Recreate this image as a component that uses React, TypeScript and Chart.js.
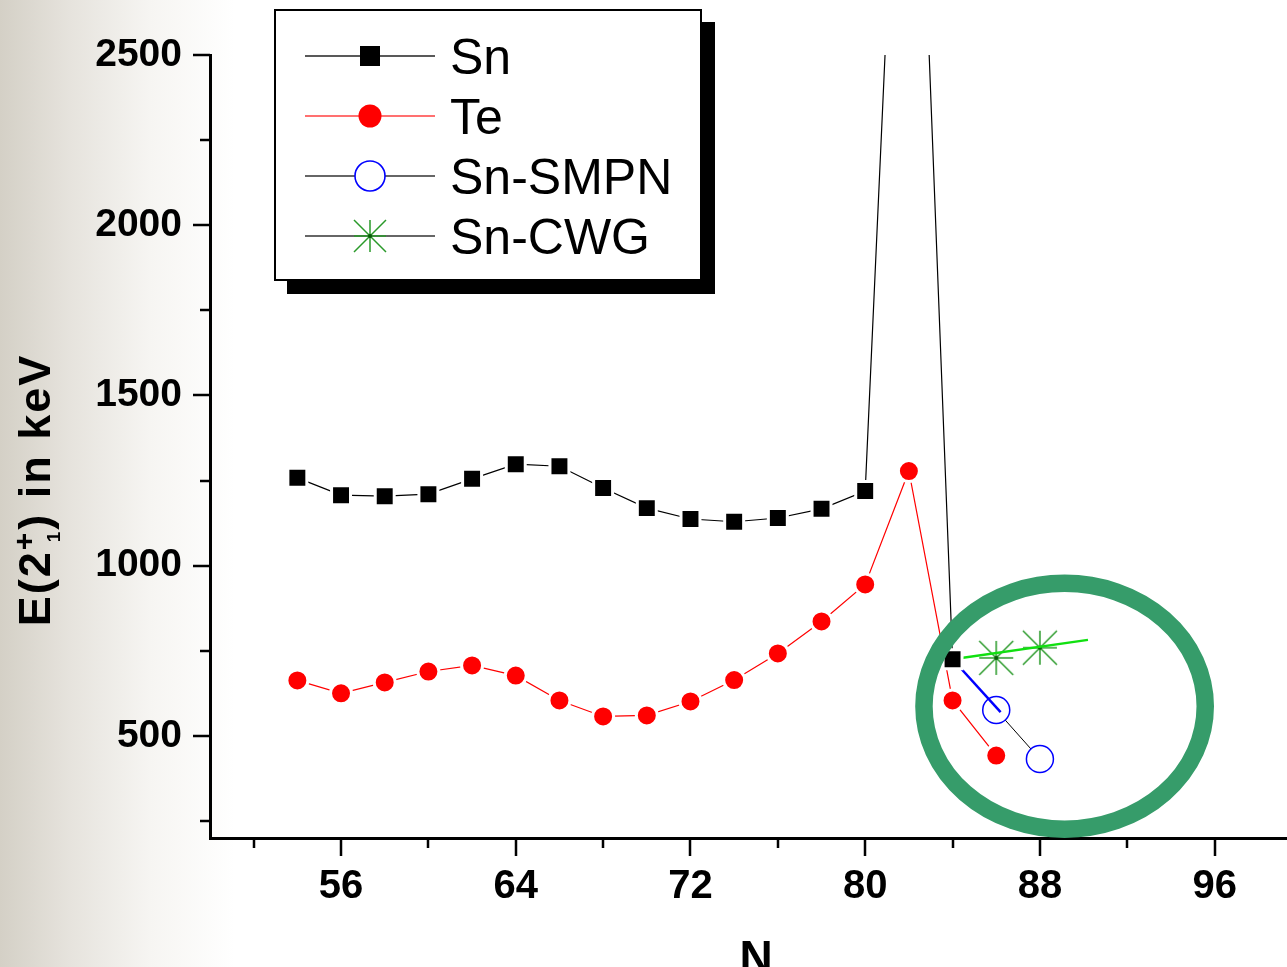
import React, { useEffect, useRef } from 'react';
import { Chart, registerables } from 'chart.js';

Chart.register(...registerables);

// ---------- data ----------
const snN = [54, 56, 58, 60, 62, 64, 66, 68, 70, 72, 74, 76, 78, 80, 82, 84];
const snE = [1258, 1207, 1204, 1210, 1255, 1298, 1292, 1228, 1169, 1137, 1129, 1140, 1167, 1219, 4041, 725];
const teN = [54, 56, 58, 60, 62, 64, 66, 68, 70, 72, 74, 76, 78, 80, 82, 84, 86];
const teE = [663, 625, 657, 689, 707, 677, 604, 557, 560, 601, 664, 742, 836, 945, 1278, 604, 442];
const smpnN = [86, 88];
const smpnE = [576, 432];
const cwgN = [86, 88];
const cwgE = [729, 759];
const smpnLinkN = [84, 86.2];
const smpnLinkE = [725, 570];
const cwgFitN = [84, 90.2];
const cwgFitE = [725, 782];

const xTickValues = [52, 56, 60, 64, 68, 72, 76, 80, 84, 88, 92, 96, 100];
const xTickLabels = [56, 64, 72, 80, 88, 96];
const yTickValues = [250, 500, 750, 1000, 1250, 1500, 1750, 2000, 2250, 2500];
const yTickLabels = [500, 1000, 1500, 2000, 2500];
const seriesNames = ['Sn', 'Te', 'Sn-SMPN', 'Sn-CWG'];
const xTitle = 'N';
const yTitleMain = 'E(2';
const yTitleSup = '+';
const yTitleSub = '1';
const yTitleRest = ') in keV';

// highlight ellipse (data units): centre and radii
const highlightCenter = [89.13, 587];
const highlightRadii = [6.44, 361];

const FONT = "'Liberation Sans', Arial, Helvetica, sans-serif";

const pts = (xs: number[], ys: number[]) => xs.map((x, i) => ({ x, y: ys[i] }));

function drawStar(ctx: CanvasRenderingContext2D, cx: number, cy: number, r: number, color: string, w: number) {
  ctx.save();
  ctx.strokeStyle = color;
  ctx.lineWidth = w;
  ctx.beginPath();
  ctx.moveTo(cx - r, cy); ctx.lineTo(cx + r, cy);
  ctx.moveTo(cx, cy - r); ctx.lineTo(cx, cy + r);
  ctx.moveTo(cx - r, cy - r); ctx.lineTo(cx + r, cy + r);
  ctx.moveTo(cx - r, cy + r); ctx.lineTo(cx + r, cy - r);
  ctx.stroke();
  ctx.fillStyle = '#0a5a0a';
  ctx.beginPath(); ctx.arc(cx, cy, 2, 0, Math.PI * 2); ctx.fill();
  ctx.restore();
}

const decorPlugin = {
  id: 'decor',
  afterDatasetsDraw(chart: any) {
    const { ctx, scales } = chart;
    const x = scales.x, y = scales.y;
    const cx = x.getPixelForValue(highlightCenter[0]);
    const cy = y.getPixelForValue(highlightCenter[1]);
    const rx = Math.abs(x.getPixelForValue(highlightCenter[0] + highlightRadii[0]) - cx);
    const ry = Math.abs(y.getPixelForValue(highlightCenter[1] + highlightRadii[1]) - cy);
    ctx.save();
    ctx.beginPath();
    ctx.ellipse(cx, cy, rx, ry, 0, 0, Math.PI * 2);
    ctx.strokeStyle = '#369c6a';
    ctx.lineWidth = 17.5;
    ctx.stroke();
    ctx.restore();
  },
  afterDraw(chart: any) {
    const { ctx, scales, chartArea } = chart;
    const x = scales.x, y = scales.y;
    ctx.save();
    // tick marks
    ctx.strokeStyle = '#000';
    ctx.lineWidth = 2.5;
    ctx.beginPath();
    xTickValues.forEach((v) => {
      const px = Math.round(x.getPixelForValue(v));
      const len = xTickLabels.includes(v) ? 18 : 10;
      ctx.moveTo(px, chartArea.bottom);
      ctx.lineTo(px, chartArea.bottom + len);
    });
    yTickValues.forEach((v) => {
      const py = Math.round(y.getPixelForValue(v));
      const len = yTickLabels.includes(v) ? 17 : 10;
      ctx.moveTo(chartArea.left, py);
      ctx.lineTo(chartArea.left - len, py);
    });
    ctx.stroke();

    // x title
    ctx.fillStyle = '#000';
    ctx.font = `bold 46px ${FONT}`;
    ctx.textAlign = 'center';
    ctx.textBaseline = 'alphabetic';
    ctx.fillText(xTitle, (chartArea.left + chartArea.right) / 2, 973);

    // y title (rotated, with super/subscript)
    ctx.save();
    ctx.translate(50, 490);
    ctx.rotate(-Math.PI / 2);
    ctx.textAlign = 'left';
    try { (ctx as any).letterSpacing = '2px'; } catch (e) { /* ignore */ }
    const big = `bold 45px ${FONT}`;
    const sup = `bold 30px ${FONT}`;
    const sub = `bold 19px ${FONT}`;
    ctx.font = big;
    const w1 = ctx.measureText(yTitleMain).width;
    const w3 = ctx.measureText(yTitleRest).width;
    ctx.font = sup;
    const wSup = ctx.measureText(yTitleSup).width;
    ctx.font = sub;
    const wSub = ctx.measureText(yTitleSub).width;
    const wMid = Math.max(wSup, wSub + 8);
    let px = -(w1 + wMid + w3) / 2;
    ctx.font = big;
    ctx.fillText(yTitleMain, px, 0);
    px += w1;
    ctx.font = sup;
    ctx.fillText(yTitleSup, px, -16);
    ctx.font = sub;
    ctx.fillText(yTitleSub, px + 8, 10);
    px += wMid;
    ctx.font = big;
    ctx.fillText(yTitleRest, px, 0);
    try { (ctx as any).letterSpacing = '0px'; } catch (e) { /* ignore */ }
    ctx.restore();

    // legend
    const L = { x: 274, y: 9, w: 428, h: 272, shadow: 13 };
    ctx.fillStyle = '#000';
    ctx.fillRect(L.x + L.shadow, L.y + L.shadow, L.w, L.h);
    ctx.fillStyle = '#fff';
    ctx.fillRect(L.x, L.y, L.w, L.h);
    ctx.strokeStyle = '#000';
    ctx.lineWidth = 2;
    ctx.strokeRect(L.x + 1, L.y + 1, L.w - 2, L.h - 2);

    seriesNames.forEach((name, i) => {
      const ds = chart.data.datasets.find((d: any) => d.label === name);
      if (!ds) return;
      const ry = 56 + i * 60;
      ctx.strokeStyle = ds.legendLine;
      ctx.lineWidth = 1.5;
      ctx.beginPath();
      ctx.moveTo(305, ry);
      ctx.lineTo(435, ry);
      ctx.stroke();
      const mx = 370;
      if (ds.legendMarker === 'square') {
        ctx.fillStyle = '#000';
        ctx.fillRect(mx - 10, ry - 10, 20, 20);
      } else if (ds.legendMarker === 'dot') {
        ctx.fillStyle = '#ff0000';
        ctx.beginPath(); ctx.arc(mx, ry, 11.5, 0, Math.PI * 2); ctx.fill();
      } else if (ds.legendMarker === 'ring') {
        ctx.fillStyle = '#fff';
        ctx.strokeStyle = '#0000ff';
        ctx.lineWidth = 1.6;
        ctx.beginPath(); ctx.arc(mx, ry, 15, 0, Math.PI * 2); ctx.fill(); ctx.stroke();
      } else if (ds.legendMarker === 'star') {
        drawStar(ctx, mx, ry, 16, '#2a9a2a', 1.5);
      }
      ctx.fillStyle = '#000';
      ctx.font = `50px ${FONT}`;
      ctx.textAlign = 'left';
      ctx.textBaseline = 'alphabetic';
      ctx.fillText(name, 450, ry + 18);
    });
    ctx.restore();
  },
};

export default function App() {
  const ref = useRef<HTMLCanvasElement | null>(null);

  useEffect(() => {
    const canvas = ref.current;
    if (!canvas) return;

    const starCanvas = document.createElement('canvas');
    starCanvas.width = 38;
    starCanvas.height = 38;
    const sctx = starCanvas.getContext('2d');
    if (sctx) drawStar(sctx, 19, 19, 17, '#2a9a2a', 1.5);

    const chart = new Chart(canvas, {
      type: 'scatter',
      data: {
        datasets: [
          {
            label: 'Sn',
            data: pts(snN, snE),
            showLine: true,
            borderColor: '#000',
            borderWidth: 1.2,
            pointStyle: 'rect',
            pointRadius: 13.4,
            pointBackgroundColor: '#000',
            pointBorderColor: '#fff',
            pointBorderWidth: 3,
            order: 0,
            legendLine: '#222',
            legendMarker: 'square',
          } as any,
          {
            label: 'Te',
            data: pts(teN, teE),
            showLine: true,
            borderColor: '#ff0000',
            borderWidth: 1.2,
            pointStyle: 'circle',
            pointRadius: 10.5,
            pointBackgroundColor: '#ff0000',
            pointBorderColor: '#fff',
            pointBorderWidth: 3,
            order: 1,
            legendLine: '#ff4040',
            legendMarker: 'dot',
          } as any,
          {
            label: 'Sn-SMPN',
            data: pts(smpnN, smpnE),
            showLine: true,
            borderColor: '#000',
            borderWidth: 1,
            pointStyle: 'circle',
            pointRadius: 13.5,
            pointBackgroundColor: '#fff',
            pointBorderColor: '#0000ff',
            pointBorderWidth: 1.5,
            order: 4,
            legendLine: '#333',
            legendMarker: 'ring',
          } as any,
          {
            label: 'Sn-CWG',
            data: pts(cwgN, cwgE),
            showLine: false,
            borderColor: '#000',
            borderWidth: 1,
            pointStyle: starCanvas,
            pointRadius: 17,
            order: 5,
            legendLine: '#333',
            legendMarker: 'star',
          } as any,
          {
            label: 'SMPN link',
            data: pts(smpnLinkN, smpnLinkE),
            showLine: true,
            borderColor: '#0000ff',
            borderWidth: 2.5,
            pointRadius: 0,
            order: 3,
          } as any,
          {
            label: 'CWG trend',
            data: pts(cwgFitN, cwgFitE),
            showLine: true,
            borderColor: '#10e010',
            borderWidth: 2.5,
            pointRadius: 0,
            order: 2,
          } as any,
        ],
      },
      options: {
        responsive: false,
        maintainAspectRatio: false,
        animation: false,
        devicePixelRatio: 1,
        layout: { padding: { top: 55, left: 0, right: 0, bottom: 0 } },
        plugins: {
          legend: { display: false },
          tooltip: { enabled: false },
          title: { display: false },
        },
        scales: {
          x: {
            type: 'linear',
            min: 50,
            max: 100,
            afterBuildTicks: (s: any) => {
              s.ticks = xTickValues.map((v) => ({ value: v }));
            },
            afterFit: (s: any) => {
              s.height = 129;
            },
            grid: { display: false, drawTicks: false },
            border: { display: true, color: '#000', width: 3 },
            ticks: {
              autoSkip: false,
              maxRotation: 0,
              minRotation: 0,
              padding: 25,
              color: '#000',
              font: { family: FONT, size: 40, weight: 'bold' },
              callback: (v: any) => (xTickLabels.includes(Number(v)) ? String(v) : ''),
            },
          },
          y: {
            type: 'linear',
            min: 200,
            max: 2500,
            afterBuildTicks: (s: any) => {
              s.ticks = yTickValues.map((v) => ({ value: v }));
            },
            afterFit: (s: any) => {
              s.width = 210;
            },
            grid: { display: false, drawTicks: false },
            border: { display: true, color: '#000', width: 3 },
            ticks: {
              autoSkip: false,
              padding: 28,
              color: '#000',
              font: { family: FONT, size: 39, weight: 'bold' },
              callback: (v: any) => (yTickLabels.includes(Number(v)) ? String(v) : ''),
            },
          },
        },
      } as any,
      plugins: [decorPlugin],
    });

    return () => chart.destroy();
  }, []);

  return (
    <div
      style={{
        position: 'fixed',
        left: 0,
        top: 0,
        width: 1287,
        height: 967,
        overflow: 'hidden',
        background: 'linear-gradient(to right, #d4d0c6 0px, #e6e3dd 70px, #f6f5f2 150px, #ffffff 235px)',
      }}
    >
      <canvas ref={ref} width={1327} height={967} style={{ display: 'block', width: 1327, height: 967 }} />
    </div>
  );
}
